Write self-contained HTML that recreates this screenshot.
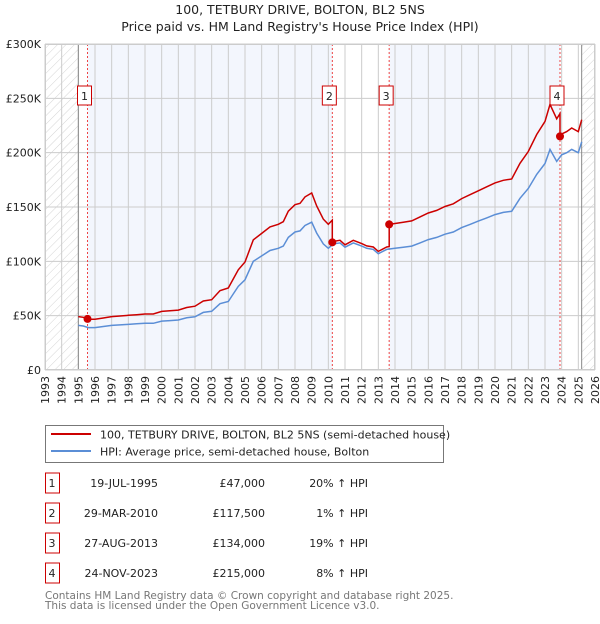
<!DOCTYPE html>
<html><head><meta charset="utf-8"><style>
body{margin:0;background:#fff;font-family:"DejaVu Sans","Liberation Sans",sans-serif;}
svg text{font-family:"DejaVu Sans","Liberation Sans",sans-serif;}
</style></head><body>
<svg id="c" width="600" height="620" xmlns="http://www.w3.org/2000/svg">
<defs><pattern id="hatch" width="6" height="6" patternUnits="userSpaceOnUse" patternTransform="rotate(45)"><line x1="0" y1="0" x2="0" y2="6" stroke="#d4d4d4" stroke-width="1"/></pattern></defs>
<text x="300" y="14" text-anchor="middle" font-size="12.5" fill="#222">100, TETBURY DRIVE, BOLTON, BL2 5NS</text>
<text x="300" y="31" text-anchor="middle" font-size="12.5" fill="#222">Price paid vs. HM Land Registry's House Price Index (HPI)</text>
<g id="plot"></g>
<g>
<rect x="45.5" y="425.5" width="398" height="37" fill="#fff" stroke="#777"/>
<line x1="51" y1="434" x2="91" y2="434" stroke="#cc0000" stroke-width="2"/>
<text x="100" y="438.5" font-size="11" fill="#222">100, TETBURY DRIVE, BOLTON, BL2 5NS (semi-detached house)</text>
<line x1="51" y1="451" x2="91" y2="451" stroke="#5b8ed6" stroke-width="2"/>
<text x="100" y="455.5" font-size="11" fill="#222">HPI: Average price, semi-detached house, Bolton</text>
</g>
<g id="table"></g>
<text x="45" y="599" font-size="10.5" fill="#777">Contains HM Land Registry data © Crown copyright and database right 2025.</text>
<text x="45" y="609" font-size="10.5" fill="#777">This data is licensed under the Open Government Licence v3.0.</text>
</svg>
<script>
const hpiYears=[1995.0,1995.3,1995.6,1996,1996.5,1997,1997.5,1998,1998.5,1999,1999.5,2000,2000.5,2001,2001.5,2002,2002.5,2003,2003.5,2004,2004.3,2004.6,2005,2005.5,2006,2006.5,2007,2007.3,2007.6,2008,2008.3,2008.6,2009,2009.3,2009.7,2010,2010.3,2010.7,2011,2011.5,2012,2012.3,2012.7,2013,2013.5,2014,2014.5,2015,2015.5,2016,2016.5,2017,2017.5,2018,2018.5,2019,2019.5,2020,2020.5,2021,2021.5,2022,2022.5,2023,2023.3,2023.7,2024,2024.3,2024.6,2025,2025.2];
const hpiValues=[41,40.5,39,39,40,41,41.5,42,42.5,43,43,45,45.5,46,48,49,53,54,61,63,70,77,83,100,105,110,112,114,122,127,128,133,136,126,116,112,116,117,113,117,114,112,111,107,111,112,113,114,117,120,122,125,127,131,134,137,140,143,145,146,158,167,180,190,203,192,198,200,203,200,210,211];
const saleLabels=["1","2","3","4"];
const saleYears=[1995.55,2010.24,2013.65,2023.9];
const salePrices=[47,117.5,134,215];
const saleDates=["19-JUL-1995","29-MAR-2010","27-AUG-2013","24-NOV-2023"];
const salePriceText=["£47,000","£117,500","£134,000","£215,000"];
const saleHpiText=["20% ↑ HPI","1% ↑ HPI","19% ↑ HPI","8% ↑ HPI"];
const xTicks=[1993,1994,1995,1996,1997,1998,1999,2000,2001,2002,2003,2004,2005,2006,2007,2008,2009,2010,2011,2012,2013,2014,2015,2016,2017,2018,2019,2020,2021,2022,2023,2024,2025,2026];
const yTicks=[0,50,100,150,200,250,300];
const yTickLabels=["£0","£50K","£100K","£150K","£200K","£250K","£300K"];

const X0=45,X1=595,Y0=370,Y1=44;
const xs=y=>X0+(y-1993)/(2026-1993)*(X1-X0);
const ys=v=>Y0-v/300*(Y0-Y1);
const NS="http://www.w3.org/2000/svg";
const plot=document.getElementById('plot');
function mk(tag,at,parent){const e=document.createElementNS(NS,tag);for(const k in at)e.setAttribute(k,at[k]);(parent||plot).appendChild(e);return e;}
function hpiAt(t){for(let i=0;i<hpiYears.length-1;i++){if(t<=hpiYears[i+1]){const f=(t-hpiYears[i])/(hpiYears[i+1]-hpiYears[i]);return hpiValues[i]+f*(hpiValues[i+1]-hpiValues[i]);}}return hpiValues[hpiValues.length-1];}
const dataStart=hpiYears[0],dataEnd=hpiYears[hpiYears.length-1];

let r=mk('rect',{x:xs(saleYears[0]),y:Y1,width:xs(saleYears[1])-xs(saleYears[0]),height:Y0-Y1,fill:'#f3f6fd'});


r=mk('rect',{x:xs(saleYears[2]),y:Y1,width:xs(saleYears[3])-xs(saleYears[2]),height:Y0-Y1,fill:'#f3f6fd'});


r=mk('rect',{x:X0,y:Y1,width:xs(dataStart)-X0,height:Y0-Y1,fill:'url(#hatch)'});


r=mk('rect',{x:xs(dataEnd),y:Y1,width:X1-xs(dataEnd),height:Y0-Y1,fill:'url(#hatch)'});



xTicks.forEach(t=>{const l=mk('line',{x1:xs(t),x2:xs(t),y1:Y1,y2:Y0,stroke:'#ccc','stroke-width':1});


const tx=mk('text',{x:0,y:0,'font-size':11,fill:'#222','text-anchor':'end',transform:`translate(${xs(t)+4},${Y0+6}) rotate(-90)`});tx.textContent=t;

});
yTicks.forEach((v,i)=>{const l=mk('line',{x1:X0,x2:X1,y1:ys(v),y2:ys(v),stroke:'#ccc','stroke-width':1});


const tx=mk('text',{x:41,y:ys(v)+4,'font-size':11,fill:'#222','text-anchor':'end'});tx.textContent=yTickLabels[i];

});
[dataStart,dataEnd].forEach(t=>{const l=mk('line',{x1:xs(t),x2:xs(t),y1:Y1,y2:Y0,stroke:'#888','stroke-width':1});

});

saleYears.forEach((t,i)=>{const l=mk('line',{x1:xs(t),x2:xs(t),y1:Y1,y2:Y0,stroke:'#e44','stroke-width':1,'stroke-dasharray':'2,2'});


const bx=mk('rect',{x:xs(t)-10,y:86,width:14,height:19,fill:'#fff',stroke:'#cc0000'});


const tx=mk('text',{x:xs(t)-3,y:100,'font-size':11,fill:'#222','text-anchor':'middle'});tx.textContent=saleLabels[i];

});

let d='';hpiYears.forEach((t,i)=>{d+=(i?'L':'M')+xs(t).toFixed(1)+','+ys(hpiValues[i]).toFixed(1);});
const hp=mk('path',{d,fill:'none',stroke:'#5b8ed6','stroke-width':1.5});



let pts=[];
for(let s=0;s<saleYears.length;s++){
 const start=s==0?dataStart:saleYears[s], end=s<saleYears.length-1?saleYears[s+1]:dataEnd;
 const f=salePrices[s]/hpiAt(saleYears[s]);
 const ts=[start].concat(hpiYears.filter(t=>t>start&&t<end),[end]);
 ts.forEach(t=>pts.push([t,hpiAt(t)*f]));
}
d='';pts.forEach((p,i)=>{d+=(i?'L':'M')+xs(p[0]).toFixed(1)+','+ys(p[1]).toFixed(1);});
const pp=mk('path',{d,fill:'none',stroke:'#cc0000','stroke-width':1.5});


saleYears.forEach((t,i)=>{const c=mk('circle',{cx:xs(t),cy:ys(salePrices[i]),r:4,fill:'#cc0000'});

});
const bd=mk('rect',{x:X0+0.5,y:Y1+0.5,width:X1-X0-1,height:Y0-Y1-1,fill:'none',stroke:'#ccc'});



const tb=document.getElementById('table');
saleLabels.forEach((lab,i)=>{const cy=483+i*30;
const b=mk('rect',{x:45.5,y:cy-10,width:14,height:20,fill:'#fff',stroke:'#cc0000'},tb);


const cols=[[52,'middle',lab,'table-row-number'],[158,'end',saleDates[i],'table-date'],[265,'end',salePriceText[i],'table-price'],[368,'end',saleHpiText[i],'table-hpi-change']];
cols.forEach(c=>{const t=mk('text',{x:c[0],y:cy+4,'font-size':11,fill:'#222','text-anchor':c[1]},tb);t.textContent=c[2];

});});
</script>
</body></html>
